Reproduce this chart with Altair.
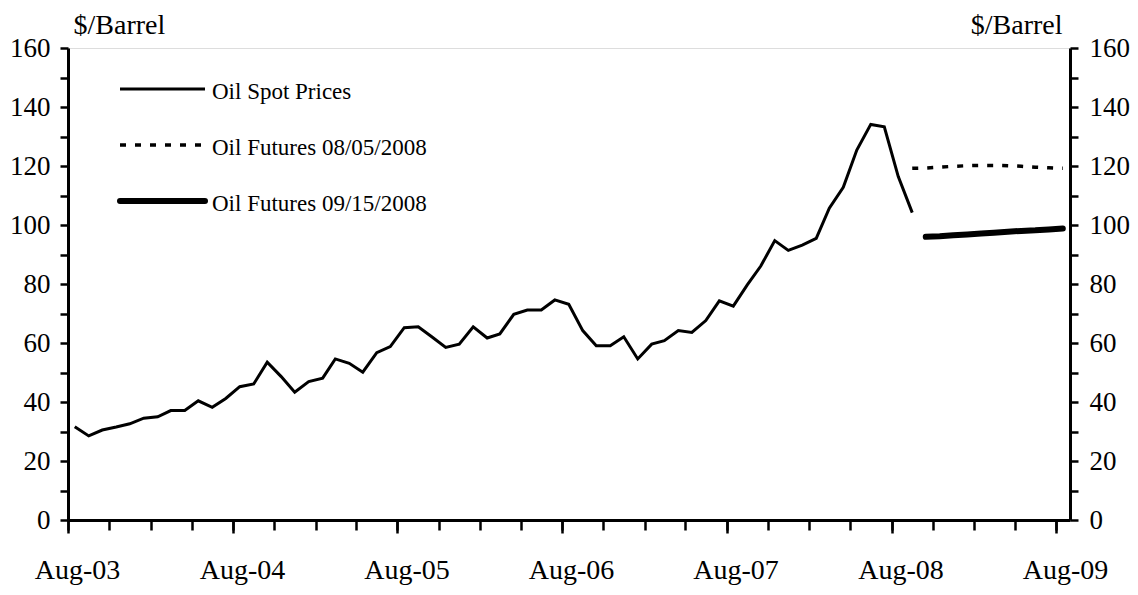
import altair as alt
import pandas as pd

# ---- data ----
spot_start = "2003-08"
spot_values = [
    31.6, 28.5, 30.5, 31.5, 32.6,
    34.5, 35.0, 37.1, 37.1, 40.4, 38.2, 41.2, 45.2, 46.1, 53.5, 48.6, 43.3,
    46.9, 48.1, 54.6, 53.1, 50.1, 56.7, 58.8, 65.2, 65.5, 62.1, 58.5, 59.6,
    65.5, 61.7, 63.1, 69.7, 71.2, 71.2, 74.6, 73.1, 64.2, 59.1, 59.1, 62.1,
    54.6, 59.6, 60.8, 64.2, 63.6, 67.6, 74.3, 72.5, 79.7, 86.1, 94.7, 91.4,
    93.2, 95.5, 105.7, 112.8, 125.4, 134.1, 133.3, 116.4, 104.2,
]
fut1_start = "2008-09"
fut1_values = [119.2, 119.3, 119.6, 119.9, 120.1, 120.2, 120.2, 120.1, 119.9, 119.6, 119.4, 119.2]
fut2_start = "2008-10"
fut2_values = [96.0, 96.2, 96.5, 96.8, 97.1, 97.4, 97.7, 98.0, 98.2, 98.5, 98.8]

series_names = ["Oil Spot Prices", "Oil Futures 08/05/2008", "Oil Futures 09/15/2008"]
y_title = "$/Barrel"
x_domain = ["2003-08-01", "2009-09-01"]
x_tick_start, x_tick_end = "2003-08-01", "2009-08-01"


def monthly(start, values, name):
    # monthly points placed mid-month (category centre)
    dates = pd.date_range(start=start + "-01", periods=len(values), freq="MS") + pd.Timedelta(days=15)
    return pd.DataFrame({"date": dates.strftime("%Y-%m-%d"), "price": values, "series": name})


df_spot = monthly(spot_start, spot_values, series_names[0])
df_f1 = monthly(fut1_start, fut1_values, series_names[1])
df_f2 = monthly(fut2_start, fut2_values, series_names[2])

FONT = "Liberation Serif"

quarter_ticks = [int(t.timestamp() * 1000) for t in pd.date_range(x_tick_start, x_tick_end, freq="3MS", tz="UTC")]
year_ticks = [int(t.timestamp() * 1000) for t in pd.date_range(x_tick_start, x_tick_end, freq="12MS", tz="UTC")]
x_scale = alt.Scale(type="utc", domain=x_domain)
x_axis = alt.Axis(
    orient="bottom",
    values=quarter_ticks,
    labelExpr="utcmonth(datum.value) == 7 ? utcFormat(datum.value, '%b-%y') : ''",
    tickSize=10, tickWidth=2.5, tickColor="black",
    domainWidth=3, domainColor="black",
    labelFont=FONT, labelFontSize=28, labelColor="black",
    labelBaseline="middle", labelPadding=40, labelOffset=9,
    labelFlush=False, labelOverlap=False, grid=False, title=None,
)
x_major = alt.Axis(
    orient="bottom",
    values=year_ticks, tickSize=13, tickWidth=2.5, tickColor="black",
    labels=False, domain=False, grid=False, title=None,
)
X = alt.X("date:T", scale=x_scale, axis=x_axis)
X_none = alt.X("date:T", scale=x_scale, axis=None)
X_major = alt.X("date:T", scale=x_scale, axis=x_major)

y_scale = alt.Scale(domain=[0, 160], nice=False, zero=True)
common_y = dict(
    values=list(range(0, 161, 10)),
    labelExpr="datum.value % 20 == 0 ? datum.label : ''",
    tickSize=8, tickWidth=2.5, tickColor="black",
    domainWidth=3, domainColor="black",
    labelFont=FONT, labelFontSize=27, labelColor="black",
    labelBaseline="middle",
    grid=False, title=y_title, titleAngle=0, titleFont=FONT, titleFontSize=28,
    titleFontWeight="normal", titleColor="black", titleY=-15, titleBaseline="alphabetic",
)
y_left = alt.Axis(orient="left", labelPadding=10, titleX=5, titleAlign="left", **common_y)
y_right = alt.Axis(orient="right", labelPadding=11, titleX=-8, titleAlign="right", **common_y)

spot = alt.Chart(df_spot).mark_line(color="black", strokeWidth=3).encode(
    x=X, y=alt.Y("price:Q", scale=y_scale, axis=y_left)
)
fut1 = alt.Chart(df_f1).mark_line(color="black", strokeWidth=3.5, strokeDash=[6, 9]).encode(
    x=X_none, y=alt.Y("price:Q", scale=y_scale, axis=y_right)
)
fut2 = alt.Chart(df_f2).mark_line(color="black", strokeWidth=6, strokeCap="round").encode(
    x=X_major, y=alt.Y("price:Q", scale=y_scale, axis=None)
)

# ---- manual legend ----
leg_src = alt.Chart(pd.DataFrame({"k": [0]}))
leg = []
leg_styles = [
    dict(strokeWidth=3),
    dict(strokeWidth=3.5, strokeDash=[6, 9]),
    dict(strokeWidth=6, strokeCap="round"),
]
leg_y = [41, 97, 153]
leg_ty = [44, 100, 156]
for name, st, ly, ty in zip(series_names, leg_styles, leg_y, leg_ty):
    leg.append(leg_src.mark_rule(color="black", **st).encode(
        x=alt.value(52), x2=alt.value(137), y=alt.value(ly)))
    leg.append(leg_src.mark_text(align="left", baseline="middle", font=FONT, fontSize=23, color="black").encode(
        x=alt.value(144), y=alt.value(ty), text=alt.value(name)))

chart = alt.layer(spot, fut1, fut2, *leg).resolve_axis(y="independent", x="independent").properties(
    width=1002, height=472,
    autosize=alt.AutoSizeParams(type="none"),
    padding={"left": 60, "top": 40, "right": 60, "bottom": 67},
).configure_view(stroke="black", strokeWidth=3).configure(font=FONT, background="white")

chart.save("out.html", embed_options={"renderer": "svg", "actions": False})
